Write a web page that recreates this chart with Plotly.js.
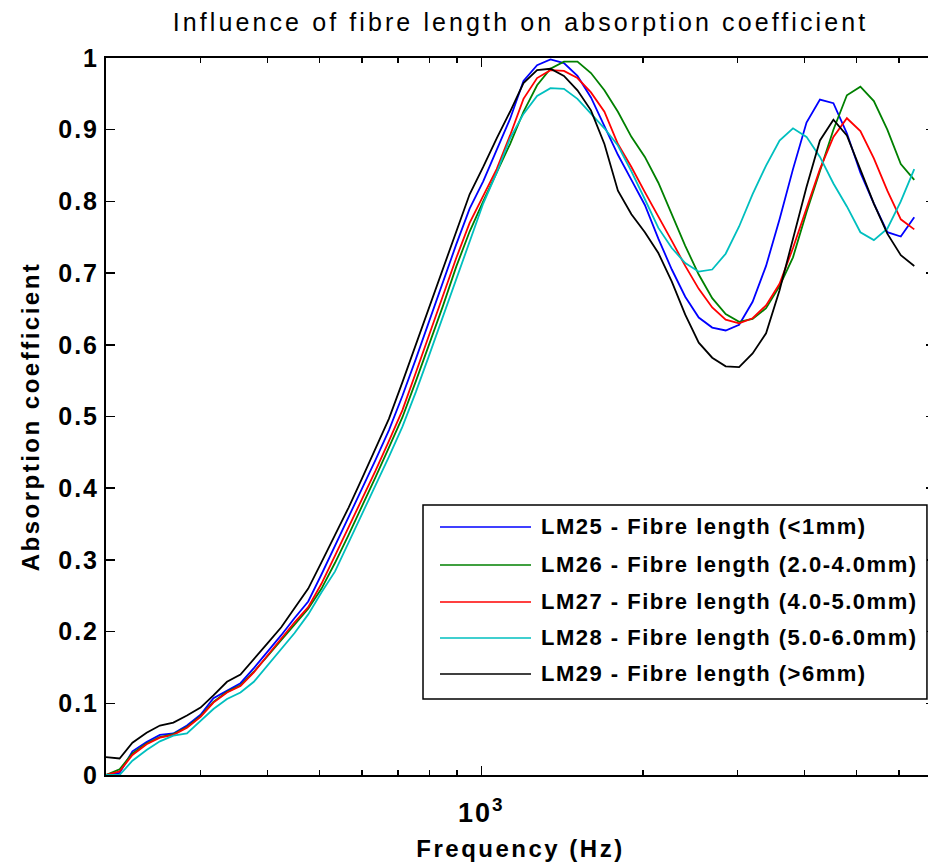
<!DOCTYPE html>
<html><head><meta charset="utf-8">
<script src="https://cdn.plot.ly/plotly-3.0.1.min.js"></script>
<style>
html,body{margin:0;padding:0;overflow:hidden;background:#fff;}
#chart{width:960px;height:865px;}
.gtitle{letter-spacing:3.1px;}
.xtitle,.ytitle{letter-spacing:2.5px;}
.ytick text,.xtick text{letter-spacing:2px;}
.annotation-text{letter-spacing:1.5px;}
</style></head><body><div id="chart"></div>
<script>
// Frequency (Hz)
const freq = [200, 212, 224, 238, 252, 267, 283, 300, 317, 336, 356, 377, 400, 424, 449, 476, 504, 534, 566, 599,
  635, 673, 713, 755, 800, 848, 898, 951, 1008, 1068, 1131, 1198, 1270, 1345, 1425, 1510, 1600, 1695, 1796, 1903,
  2016, 2136, 2263, 2397, 2540, 2691, 2851, 3020, 3200, 3390, 3592, 3805, 4032, 4271, 4525, 4794, 5080, 5382, 5702, 6041, 6400];

const lm25 = [0.0, 0.003, 0.033, 0.046, 0.056, 0.058, 0.069, 0.084, 0.107, 0.118,
  0.128, 0.149, 0.172, 0.195, 0.219, 0.242, 0.280, 0.320, 0.359, 0.397,
  0.439, 0.481, 0.529, 0.580, 0.634, 0.687, 0.740, 0.790, 0.828, 0.872,
  0.915, 0.968, 0.990, 0.998, 0.993, 0.975, 0.945, 0.905, 0.865, 0.830,
  0.795, 0.748, 0.705, 0.667, 0.638, 0.624, 0.620, 0.628, 0.660, 0.710,
  0.775, 0.845, 0.910, 0.942, 0.937, 0.895, 0.840, 0.797, 0.757, 0.751, 0.778];

const lm26 = [0.0, 0.008, 0.030, 0.044, 0.053, 0.057, 0.067, 0.082, 0.102, 0.116,
  0.125, 0.144, 0.166, 0.188, 0.210, 0.232, 0.260, 0.296, 0.335, 0.374,
  0.415, 0.457, 0.499, 0.549, 0.600, 0.654, 0.709, 0.758, 0.800, 0.840,
  0.880, 0.925, 0.962, 0.985, 0.995, 0.995, 0.979, 0.955, 0.925, 0.890,
  0.862, 0.826, 0.782, 0.738, 0.698, 0.665, 0.643, 0.632, 0.636, 0.651,
  0.682, 0.722, 0.785, 0.842, 0.900, 0.948, 0.960, 0.940, 0.900, 0.852, 0.830];

const lm27 = [0.0, 0.005, 0.028, 0.043, 0.052, 0.056, 0.066, 0.081, 0.101, 0.115,
  0.124, 0.143, 0.167, 0.190, 0.213, 0.234, 0.267, 0.306, 0.345, 0.383,
  0.424, 0.466, 0.509, 0.561, 0.614, 0.667, 0.721, 0.770, 0.808, 0.845,
  0.892, 0.943, 0.972, 0.983, 0.982, 0.972, 0.952, 0.925, 0.880, 0.848,
  0.813, 0.780, 0.745, 0.710, 0.678, 0.652, 0.635, 0.630, 0.637, 0.655,
  0.685, 0.735, 0.790, 0.845, 0.890, 0.916, 0.898, 0.860, 0.815, 0.775, 0.761];

const lm28 = [0.0, 0.0, 0.020, 0.035, 0.047, 0.055, 0.058, 0.076, 0.092, 0.106,
  0.115, 0.130, 0.153, 0.175, 0.198, 0.224, 0.255, 0.284, 0.324, 0.363,
  0.402, 0.444, 0.486, 0.534, 0.586, 0.639, 0.693, 0.745, 0.797, 0.840,
  0.888, 0.922, 0.947, 0.958, 0.957, 0.943, 0.923, 0.902, 0.878, 0.842,
  0.803, 0.763, 0.735, 0.714, 0.702, 0.705, 0.727, 0.765, 0.810, 0.850,
  0.885, 0.902, 0.890, 0.862, 0.825, 0.793, 0.757, 0.746, 0.762, 0.800, 0.845];

const lm29 = [0.025, 0.023, 0.045, 0.059, 0.069, 0.073, 0.083, 0.094, 0.111, 0.130,
  0.140, 0.161, 0.184, 0.206, 0.232, 0.260, 0.297, 0.335, 0.373, 0.413,
  0.455, 0.497, 0.548, 0.600, 0.654, 0.707, 0.759, 0.810, 0.848, 0.888,
  0.925, 0.965, 0.983, 0.985, 0.975, 0.955, 0.927, 0.880, 0.815, 0.782,
  0.757, 0.728, 0.688, 0.642, 0.603, 0.582, 0.570, 0.569, 0.588, 0.616,
  0.676, 0.748, 0.820, 0.885, 0.914, 0.892, 0.845, 0.797, 0.755, 0.725, 0.710];

const seriesNames = ['LM25 - Fibre length (<1mm)', 'LM26 - Fibre length (2.0-4.0mm)',
  'LM27 - Fibre length (4.0-5.0mm)', 'LM28 - Fibre length (5.0-6.0mm)', 'LM29 - Fibre length (>6mm)'];
const seriesValues = [lm25, lm26, lm27, lm28, lm29];
const seriesColors = ['#0000ff', '#008000', '#ff0000', '#00bfbf', '#000000'];

const xMajorTicks = [1000];
const xMajorText = ['10<sup>3</sup>'];
const xMinorTicks = [300, 400, 500, 600, 700, 800, 900, 2000, 3000, 4000, 5000, 6000, 7000, 8000, 9000];
const yTicks = [0, 0.1, 0.2, 0.3, 0.4, 0.5, 0.6, 0.7, 0.8, 0.9, 1];
const yTickText = ['0', '0.1', '0.2', '0.3', '0.4', '0.5', '0.6', '0.7', '0.8', '0.9', '1'];

const traces = seriesValues.map((v, k) => ({
  x: freq, y: v, type: 'scatter', mode: 'lines', name: seriesNames[k],
  line: {color: seriesColors[k], width: 1.8}, showlegend: false, hoverinfo: 'skip'
}));

// custom legend (box, sample lines, labels) in paper coordinates
const legX0 = 0.3824, legX1 = 0.9903, legY0 = 0.106, legY1 = 0.3766;
const lineX0 = 0.4029, lineX1 = 0.5127, textX = 0.5223;
const rowY = [0.3459, 0.2929, 0.2413, 0.1911, 0.1409];
const shapes = [{type: 'rect', xref: 'paper', yref: 'paper', x0: legX0, x1: legX1, y0: legY0, y1: legY1,
  line: {color: 'black', width: 1.5}, fillcolor: 'white', layer: 'above'}];
const annotations = [];
seriesNames.forEach((n, k) => {
  shapes.push({type: 'line', xref: 'paper', yref: 'paper', x0: lineX0, x1: lineX1, y0: rowY[k], y1: rowY[k],
    line: {color: seriesColors[k], width: 1.6}, layer: 'above'});
  annotations.push({xref: 'paper', yref: 'paper', x: textX, y: rowY[k], xanchor: 'left', yanchor: 'middle',
    text: n, showarrow: false, font: {size: 22, weight: 'bold', color: 'black'}});
});

const layout = {
  width: 960, height: 865,
  margin: {l: 106, r: 25, t: 58, b: 90},
  paper_bgcolor: 'white', plot_bgcolor: 'white',
  font: {family: '"Liberation Sans", Arial, sans-serif', color: 'black'},
  title: {text: 'Influence of fibre length on absorption coefficient', font: {size: 25},
    x: 0.5, xref: 'paper', xanchor: 'center', y: 0.974, yref: 'container', yanchor: 'middle'},
  xaxis: {type: 'log', range: [Math.log10(200), 3.8448], showline: true, linecolor: 'black', linewidth: 2,
    mirror: 'allticks', ticks: 'inside', ticklen: 9, tickwidth: 1.5, tickcolor: 'black',
    tickmode: 'array', tickvals: xMajorTicks, ticktext: xMajorText, tickfont: {size: 27, weight: 'bold'},
    minor: {tickmode: 'array', tickvals: xMinorTicks, ticks: 'inside', ticklen: 5, tickwidth: 1.5, tickcolor: 'black', showgrid: false},
    showgrid: false, zeroline: false, automargin: false, ticklabelstandoff: 13,
    title: {text: 'Frequency (Hz)', font: {size: 24, weight: 'bold'}, standoff: 13}},
  yaxis: {range: [0, 1], showline: true, linecolor: 'black', linewidth: 2, mirror: 'allticks',
    ticks: 'inside', ticklen: 9, tickwidth: 1.5, tickcolor: 'black',
    tickmode: 'array', tickvals: yTicks, ticktext: yTickText, tickfont: {size: 25, weight: 'bold'},
    showgrid: false, zeroline: false, automargin: false, ticklabelstandoff: 0,
    title: {text: 'Absorption coefficient', font: {size: 24, weight: 'bold'}, standoff: 12}},
  shapes: shapes, annotations: annotations
};

Plotly.newPlot('chart', traces, layout, {displayModeBar: false, staticPlot: true});
</script></body></html>
